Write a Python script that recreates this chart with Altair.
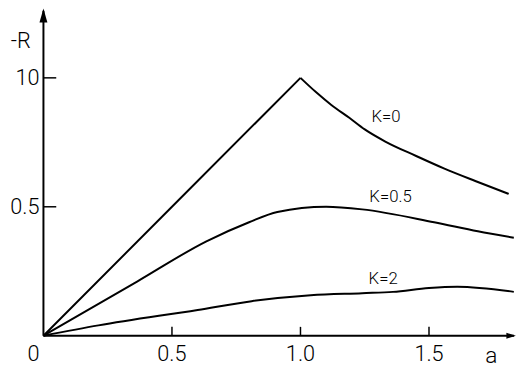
import altair as alt
import pandas as pd

# ---- data ----
series_names = ["K=0", "K=0.5", "K=2"]
a_k0 = [0, 0.5, 1.0, 1.06, 1.12, 1.19, 1.25, 1.33, 1.45, 1.56, 1.68, 1.81]
r_k0 = [0, 0.5, 1.0, 0.945, 0.895, 0.845, 0.80, 0.753, 0.697, 0.648, 0.60, 0.55]
a_k05 = [0, 0.366, 0.634, 0.80, 0.91, 1.10, 1.24, 1.52, 1.69, 1.83]
r_k05 = [0, 0.211, 0.366, 0.44, 0.48, 0.50, 0.49, 0.44, 0.405, 0.38]
a_k2 = [0, 0.214, 0.60, 0.81, 1.04, 1.24, 1.36, 1.50, 1.61, 1.83]
r_k2 = [0, 0.04, 0.10, 0.134, 0.157, 0.165, 0.17, 0.185, 0.19, 0.17]

x_tick_vals = [0.5, 1.0, 1.5]
x_tick_labels = ["0.5", "1.0", "1.5"]
y_tick_vals = [0.5, 1.0]
y_tick_labels = ["0.5", "10"]
origin_label = "0"
x_title = "a"
y_title = "-R"

X_END = 1.831
Y_END = 1.26

W, H = 478, 330
FONT = "Roboto"

def frame(name, xs_, ys_):
    return pd.DataFrame({"K": name, "a": xs_, "R": ys_,
                         "i": list(range(len(xs_)))})

# K=0 has a sharp corner at its peak: straight rise, smooth fall
peak = r_k0.index(max(r_k0))
df_rise = frame(series_names[0], a_k0[:peak + 1], r_k0[:peak + 1])
df_smooth = pd.concat([frame(series_names[0] + " fall", a_k0[peak:], r_k0[peak:]),
                       frame(series_names[1], a_k05, r_k05),
                       frame(series_names[2], a_k2, r_k2)])

xs = alt.Scale(domain=[0, X_END], nice=False, zero=True)
ys = alt.Scale(domain=[0, Y_END], nice=False, zero=True)

line0 = alt.Chart(df_rise).mark_line(color="black", strokeWidth=2,
                                     interpolate="linear").encode(
    x=alt.X("a:Q", scale=xs, axis=None),
    y=alt.Y("R:Q", scale=ys, axis=None),
    order="i:Q",
)
lines = alt.Chart(df_smooth).mark_line(color="black", strokeWidth=2,
                                       interpolate="monotone").encode(
    x=alt.X("a:Q", scale=xs, axis=None),
    y=alt.Y("R:Q", scale=ys, axis=None),
    detail="K:N",
    order="i:Q",
)

axes_df = pd.DataFrame({"x1": [0, 0], "y1": [0, 0],
                        "x2": [X_END, 0], "y2": [0, Y_END]})
axes = alt.Chart(axes_df).mark_rule(color="black", strokeWidth=2).encode(
    x=alt.X("x1:Q", scale=xs, axis=None),
    y=alt.Y("y1:Q", scale=ys, axis=None),
    x2="x2:Q", y2="y2:Q",
)

xt = pd.DataFrame({"v": x_tick_vals, "t": x_tick_labels})
yt = pd.DataFrame({"v": y_tick_vals, "t": y_tick_labels})

xticks = alt.Chart(xt).mark_rule(color="black", strokeWidth=1.5).encode(
    x=alt.X("v:Q", scale=xs, axis=None),
    y=alt.value(H), y2=alt.value(H - 9),
)
yticks = alt.Chart(yt).mark_rule(color="black", strokeWidth=1.5).encode(
    y=alt.Y("v:Q", scale=ys, axis=None),
    x=alt.value(0), x2=alt.value(13),
)
xlabels = alt.Chart(xt).mark_text(font=FONT, fontSize=22, fontWeight=300,
                                  baseline="middle", align="center",
                                  color="black").encode(
    x=alt.X("v:Q", scale=xs, axis=None),
    y=alt.value(H + 19),
    text="t:N",
)
ylabels = alt.Chart(yt).mark_text(font=FONT, fontSize=22, fontWeight=300,
                                  baseline="middle", align="right",
                                  color="black").encode(
    y=alt.Y("v:Q", scale=ys, axis=None),
    x=alt.value(-4),
    text="t:N",
)
orig = alt.Chart(pd.DataFrame({"v": [0], "t": [origin_label]})).mark_text(
    font=FONT, fontSize=22, fontWeight=300, baseline="middle", align="center",
    color="black", dx=-10).encode(
    x=alt.X("v:Q", scale=xs, axis=None),
    y=alt.value(H + 19),
    text="t:N",
)

arrows_df = pd.DataFrame({"a": [X_END, 0], "R": [0, Y_END],
                          "s": ["M0.3,0L-1.3,0.5L-1.3,-0.5Z",
                                "M0,-0.4L0.67,2L-0.67,2Z"]})
arrows = alt.Chart(arrows_df).mark_point(filled=True, color="black",
                                         opacity=1, size=144).encode(
    x=alt.X("a:Q", scale=xs, axis=None),
    y=alt.Y("R:Q", scale=ys, axis=None),
    shape=alt.Shape("s:N", scale=None, legend=None),
)

titles = [
    alt.Chart(pd.DataFrame({"t": [y_title]})).mark_text(
        font=FONT, fontSize=22, fontWeight=300, baseline="middle",
        align="center", color="black").encode(
        x=alt.value(-23), y=alt.value(31), text="t:N"),
    alt.Chart(pd.DataFrame({"t": [x_title]})).mark_text(
        font=FONT, fontSize=23, fontWeight=300, baseline="middle",
        align="center", color="black").encode(
        x=alt.value(455), y=alt.value(351), text="t:N"),
]

label_pos = [(348, 107.5), (352.5, 189), (345, 272.5)]
klabels = [
    alt.Chart(pd.DataFrame({"t": [name]})).mark_text(
        font=FONT, fontSize=17, fontWeight=300, baseline="middle",
        align="center", color="black").encode(
        x=alt.value(px), y=alt.value(py), text="t:N")
    for name, (px, py) in zip(series_names, label_pos)
]

chart = alt.layer(axes, line0, lines, xticks, yticks, xlabels, ylabels, orig,
                  arrows, *titles, *klabels).properties(
    width=W, height=H,
    autosize=alt.AutoSizeParams(type="none"),
    padding={"left": 36, "top": 0, "right": 5, "bottom": 34},
    background="white",
).configure_view(stroke=None)

chart.save("out.html", embed_options={"renderer": "svg", "actions": False})
